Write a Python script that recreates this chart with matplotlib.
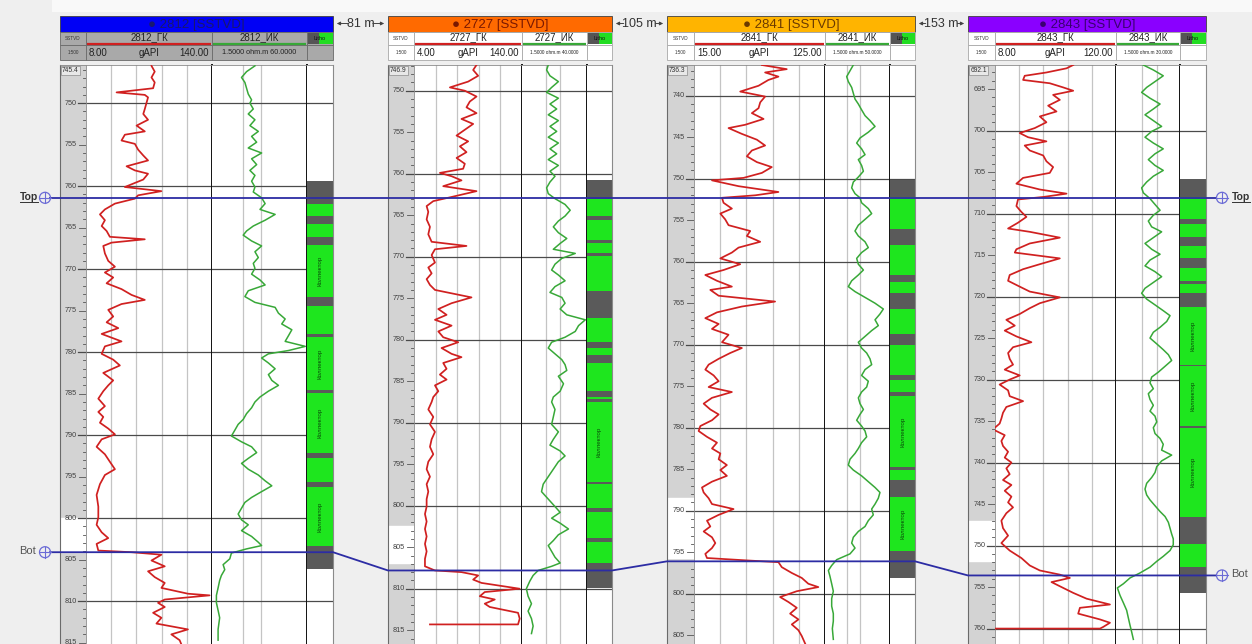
import math
import matplotlib
matplotlib.use("Agg")
import matplotlib.pyplot as plt
from matplotlib.patches import Rectangle, Circle
from matplotlib.ticker import NullLocator

plt.rcParams['font.family'] = ['Liberation Sans', 'DejaVu Sans']

FIG_W, FIG_H = 1252, 644

# ---------------------------------------------------------------- well data
WELLS = ['2812', '2727', '2841', '2843']
TOP_DEPTH = [745.4, 746.9, 736.3, 692.1]
GR_MIN = [8.0, 4.0, 15.0, 8.0]
GR_MAX = [140.0, 140.0, 125.0, 120.0]
IK_MIN = [1.5, 1.5, 1.5, 1.5]
IK_MAX = [60.0, 40.0, 50.0, 30.0]
HORIZON_TOP = [761.4, 762.9, 752.3, 708.1]
HORIZON_BOT = [804.1, 807.8, 796.1, 753.6]
WELL_SPACING_M = [81, 105, 153]
DEPTH_WHITE = [(800.0, 804.1), (802.4, 806.9), (788.5, 795.7), (747.0, 751.9)]

GR_DEPTH_2812 = [745.5, 746.2, 746.9, 747.5, 748.2, 748.7, 749.0, 749.3, 750.0, 750.7,
                 751.3, 752.0, 752.7, 753.4, 753.8, 754.5, 754.9, 755.6, 756.3, 756.9,
                 757.6, 758.1, 758.5, 759.2, 760.1, 760.6, 761.1, 761.5, 762.1, 762.8,
                 763.4, 764.1, 764.8, 765.4, 766.1, 766.4, 766.8, 767.2, 768.1, 769.0,
                 769.7, 770.4, 771.0, 771.7, 772.4, 773.1, 773.7, 774.2, 774.9, 775.7,
                 776.4, 777.1, 777.8, 778.7, 779.3, 780.2, 780.9, 781.6, 782.5, 783.4,
                 784.0, 784.7, 785.6, 786.5, 787.2, 787.8, 788.5, 789.2, 789.9, 790.5,
                 791.4, 792.3, 793.2, 794.1, 794.8, 795.9, 797.2, 798.6, 799.9, 800.8,
                 801.7, 802.4, 803.1, 803.9, 804.1, 804.4, 805.1, 805.8, 806.4, 807.1,
                 807.8, 808.4, 809.1, 809.3, 809.8, 810.2, 810.7, 811.4, 812.0, 812.7,
                 813.4, 814.0, 814.7, 815.2]
GR_2812 = [76.6, 80.0, 76.6, 80.0, 78.3, 40.0, 69.6, 73.0, 71.3, 69.6,
           68.0, 73.0, 61.0, 69.6, 48.7, 45.2, 59.2, 62.6, 68.0, 73.0,
           50.5, 59.2, 73.0, 68.0, 48.7, 87.0, 62.6, 59.2, 38.3, 27.8,
           22.6, 27.8, 24.4, 29.6, 33.0, 69.6, 34.8, 26.1, 27.8, 31.3,
           38.3, 27.8, 36.5, 29.6, 45.2, 55.7, 69.6, 45.2, 31.3, 36.5,
           29.6, 41.8, 24.4, 45.2, 27.8, 24.4, 36.5, 43.5, 26.1, 36.5,
           31.3, 26.1, 20.9, 27.8, 20.9, 26.1, 22.6, 31.3, 38.3, 24.4,
           19.1, 27.8, 33.0, 38.3, 27.8, 22.6, 19.1, 20.9, 20.9, 19.1,
           24.4, 31.3, 19.1, 20.9, 55.7, 87.0, 76.6, 90.5, 73.0, 80.0,
           90.5, 87.0, 114.8, 137.5, 90.5, 83.5, 90.5, 78.3, 87.0, 81.8,
           114.8, 97.4, 106.1, 107.9]
IK_DEPTH_2812 = [745.5, 746.2, 746.9, 747.5, 748.2, 748.9, 749.6, 750.0,
                 750.7, 751.3, 752.0, 752.7, 753.4, 754.0, 754.7, 755.4, 756.0, 756.7,
                 757.4, 758.1, 758.7, 759.4, 760.1, 760.7, 761.4, 762.1, 762.8, 763.4,
                 764.1, 764.8, 765.4, 765.9, 766.6, 767.2, 767.9, 768.6, 769.3, 769.9,
                 770.6, 771.3, 771.9, 772.6, 773.3, 774.0, 774.6, 775.3, 776.0, 776.6,
                 777.3, 778.0, 778.7, 779.3, 779.8, 780.2, 780.7, 781.3, 782.0, 782.7,
                 783.4, 784.0, 784.7, 785.4, 786.0, 786.7, 787.4, 788.1, 788.7, 789.4,
                 790.1, 790.8, 791.4, 792.1, 792.8, 793.4, 794.1, 794.8, 795.5, 796.1,
                 796.8, 797.5, 798.1, 798.8, 799.5, 800.2, 800.8, 801.5, 802.2, 802.9,
                 803.3, 803.7, 804.2, 804.9, 805.6, 806.2, 806.9, 807.5, 808.4, 809.3,
                 810.2, 811.1, 812.0, 813.4, 814.7]
IK_2812 = [7.95, 5.74, 4.72, 5.38, 5.74, 6.13, 6.98, 6.54,
           7.45, 6.13, 7.95, 6.54, 9.06, 6.98, 8.49, 6.13, 10.3, 6.98,
           8.49, 6.54, 7.95, 6.98, 7.95, 7.45, 10.3, 11.8, 9.67, 17.4,
           11.8, 7.45, 5.74, 5.04, 6.98, 10.3, 7.95, 9.06, 7.45, 7.95,
           6.98, 9.67, 11.8, 6.13, 5.38, 7.95, 17.4, 19.8, 25.7, 22.5,
           33.3, 29.3, 25.7, 56.1, 29.3, 13.4, 10.3, 13.4, 17.4, 13.4,
           15.3, 19.8, 13.4, 9.67, 7.95, 6.98, 5.74, 5.04, 4.14, 3.64,
           3.19, 4.72, 6.98, 8.49, 6.13, 4.72, 6.13, 9.06, 11.8, 15.3,
           10.3, 6.98, 5.38, 4.72, 4.14, 4.72, 6.13, 4.72, 6.98, 9.06,
           10.3, 5.74, 3.19, 2.99, 2.31, 2.46, 2.16, 2.02, 1.90, 1.78,
           1.78, 1.90, 2.02, 1.90, 1.90]

GR_DEPTH_2727 = [746.9, 747.5, 748.2, 748.9, 749.6, 750.0, 750.7, 751.3, 752.0, 752.7,
                 753.4, 754.0, 754.7, 755.4, 756.1, 756.7, 757.4, 758.1, 758.8, 759.4,
                 759.9, 760.3, 760.8, 761.5, 762.1, 762.8, 763.3, 763.9, 764.6, 765.5,
                 766.4, 767.3, 768.2, 768.7, 769.1, 769.8, 770.7, 771.3, 772.0, 772.7,
                 773.4, 774.0, 774.9, 775.6, 776.3, 777.0, 777.6, 778.3, 779.0, 779.7,
                 780.3, 781.0, 781.7, 782.1, 782.8, 783.5, 784.2, 784.8, 785.5, 786.2,
                 786.9, 787.5, 788.4, 789.3, 790.2, 791.1, 792.0, 792.9, 793.8, 794.7,
                 795.6, 796.5, 797.4, 798.3, 799.2, 800.1, 801.0, 801.9, 802.8, 803.7,
                 804.6, 805.5, 806.4, 807.3, 807.8, 808.0, 808.4, 808.9, 809.3, 810.0,
                 810.4, 810.9, 811.3, 811.8, 812.2, 812.9, 813.6, 814.3, 814.3]
GR_2727 = [82.7, 78.5, 84.8, 72.2, 49.2, 68.0, 82.7, 74.3, 70.1, 82.7,
           63.8, 78.5, 68.0, 57.6, 72.2, 61.8, 70.1, 57.6, 68.0, 65.9,
           36.6, 51.3, 63.8, 40.8, 82.7, 51.3, 28.3, 19.9, 22.0, 19.9,
           24.1, 22.0, 26.2, 70.1, 30.4, 26.2, 30.4, 22.0, 26.2, 19.9,
           24.1, 30.4, 76.4, 51.3, 34.6, 45.0, 30.4, 51.3, 34.6, 40.8,
           59.7, 38.7, 51.3, 63.8, 40.8, 45.0, 36.6, 45.0, 30.4, 34.6,
           28.3, 26.2, 22.0, 28.3, 24.1, 30.4, 26.2, 24.1, 28.3, 22.0,
           19.9, 24.1, 19.9, 22.0, 19.9, 19.9, 17.8, 19.9, 17.8, 19.9,
           17.8, 19.9, 17.8, 17.8, 30.4, 63.8, 84.8, 78.5, 89.0, 137.1,
           93.1, 86.9, 105.7, 93.1, 99.4, 135.0, 137.1, 135.0, 24.1]
IK_DEPTH_2727 = [746.9, 747.5, 748.2, 748.9, 749.6, 750.2, 750.9, 751.6, 752.2, 752.9,
                 753.6, 754.3, 754.9, 755.6, 756.3, 757.0, 757.6, 758.3, 759.0, 759.7,
                 760.3, 761.0, 761.7, 762.4, 763.0, 763.7, 764.4, 765.1, 765.7, 766.4,
                 767.1, 767.8, 768.4, 769.1, 769.6, 770.2, 770.9, 771.6, 772.2, 772.9,
                 773.6, 774.3, 774.9, 775.6, 776.3, 777.0, 777.6, 778.3, 779.0, 779.7,
                 780.3, 781.0, 781.7, 782.4, 783.0, 783.7, 784.4, 785.3, 786.2, 786.9,
                 787.5, 788.4, 789.3, 790.2, 791.1, 792.0, 792.7, 793.4, 794.0, 794.7,
                 795.6, 796.5, 797.4, 798.3, 799.2, 800.1, 800.8, 801.5, 802.1, 802.8,
                 803.5, 804.2, 804.8, 805.5, 806.2, 806.9, 807.3, 807.8, 808.4, 809.1,
                 810.0, 810.9, 811.8, 812.7, 813.6, 814.5, 815.4]
IK_2727 = [5.65, 5.20, 6.16, 9.42, 6.70, 5.20, 9.42, 6.16, 8.65, 5.65,
           9.42, 6.16, 8.65, 5.65, 9.42, 6.16, 8.65, 5.65, 9.42, 6.16,
           7.94, 6.16, 5.20, 5.65, 7.94, 13.2, 17.1, 13.2, 9.42, 7.30,
           9.42, 14.4, 10.3, 7.30, 22.1, 11.2, 7.94, 6.70, 9.42, 13.2,
           7.94, 6.16, 11.2, 13.2, 10.3, 14.4, 36.7, 26.1, 22.1, 13.2,
           6.70, 5.65, 7.94, 11.2, 13.2, 14.4, 9.42, 12.2, 10.3, 7.30,
           6.70, 7.94, 7.30, 6.70, 9.42, 7.30, 6.16, 10.3, 13.2, 9.42,
           7.30, 5.65, 4.38, 4.02, 5.65, 7.94, 10.3, 6.70, 10.3, 15.7,
           9.42, 7.30, 5.65, 6.70, 7.94, 10.3, 6.70, 3.39, 2.63, 2.22,
           1.87, 2.04, 2.42, 2.04, 2.42, 2.63, 2.42]

GR_DEPTH_2841 = [736.3, 736.8, 737.2, 737.7, 738.1, 738.8, 739.5, 740.1, 740.8, 741.5,
                 742.1, 742.8, 743.5, 743.9, 744.6, 745.3, 746.0, 746.6, 747.3, 748.0,
                 748.6, 749.3, 749.9, 750.2, 750.9, 751.6, 752.0, 752.3, 752.9, 753.6,
                 754.2, 754.9, 755.6, 756.3, 756.9, 757.6, 758.3, 758.9, 759.6, 760.3,
                 761.0, 761.6, 762.3, 763.0, 763.4, 764.1, 764.8, 765.4, 766.1, 766.8,
                 767.5, 768.1, 768.8, 769.7, 770.4, 771.0, 771.7, 772.4, 773.0, 773.7,
                 774.4, 775.1, 775.7, 776.4, 777.1, 777.8, 778.4, 779.1, 779.8, 780.4,
                 781.1, 781.8, 782.5, 783.1, 783.8, 784.5, 785.1, 785.8, 786.5, 787.2,
                 787.8, 788.5, 789.2, 789.8, 790.5, 791.2, 791.9, 792.5, 793.2, 793.9,
                 794.5, 795.2, 795.7, 796.0, 796.2, 796.8, 797.5, 798.1, 798.8, 799.2,
                 799.7, 800.4, 801.0, 801.7, 802.4, 803.1, 803.7, 804.4, 805.1, 806.0]
GR_2841 = [72.0, 92.9, 74.7, 85.9, 77.5, 69.2, 53.8, 74.7, 70.6, 69.2,
           63.6, 73.4, 58.0, 44.0, 55.2, 67.8, 74.7, 63.6, 59.4, 67.8,
           80.3, 72.0, 56.6, 30.1, 52.4, 85.9, 66.4, 38.5, 39.8, 46.8,
           37.1, 41.2, 44.0, 62.2, 59.4, 70.6, 52.4, 46.8, 37.1, 53.8,
           39.8, 24.5, 34.3, 46.8, 28.7, 35.7, 83.1, 55.2, 34.3, 24.5,
           35.7, 30.1, 44.0, 38.5, 55.2, 45.4, 35.7, 27.3, 24.5, 31.5,
           35.7, 27.3, 46.8, 30.1, 23.1, 28.7, 35.7, 30.1, 20.3, 18.9,
           25.9, 34.3, 30.1, 37.1, 35.7, 42.6, 37.1, 42.6, 30.1, 21.7,
           23.1, 27.3, 30.1, 48.2, 35.7, 25.9, 28.7, 23.1, 30.1, 32.9,
           30.1, 24.5, 25.9, 60.8, 85.9, 88.7, 97.1, 105.5, 111.0, 119.4,
           101.3, 87.3, 94.3, 101.3, 95.7, 102.7, 97.1, 102.7, 105.5, 108.3]
IK_DEPTH_2841 = [736.3, 737.0, 737.7, 738.3, 739.0, 739.7, 740.4, 741.0, 741.7, 742.4,
                 743.0, 743.7, 744.4, 745.1, 745.7, 746.4, 747.1, 747.7, 748.4, 749.1,
                 749.8, 750.4, 751.1, 751.8, 752.3, 752.9, 753.6, 754.2, 754.9, 755.6,
                 756.3, 756.9, 757.6, 758.3, 758.9, 759.6, 760.3, 761.0, 761.6, 762.3,
                 763.0, 763.6, 764.3, 765.0, 765.7, 766.3, 767.0, 767.7, 768.3, 769.0,
                 769.7, 770.4, 771.0, 771.7, 772.4, 773.0, 773.7, 774.4, 775.1, 775.7,
                 776.4, 777.1, 777.8, 778.4, 779.1, 779.8, 780.4, 781.1, 781.8, 782.5,
                 783.1, 783.8, 784.5, 785.1, 785.8, 786.5, 787.2, 787.8, 788.5, 789.2,
                 789.8, 790.5, 791.2, 791.9, 792.5, 793.2, 793.9, 794.5, 795.2, 795.9,
                 796.6, 797.2, 797.9, 798.8, 799.7, 800.6, 801.5, 802.4, 803.3, 804.2,
                 805.5]
IK_2841 = [6.91, 5.78, 4.83, 5.28, 6.32, 6.91, 7.57, 9.06, 10.8, 13.0,
           17.0, 22.3, 15.5, 9.91, 8.28, 10.8, 13.0, 9.06, 10.8, 11.9,
           9.06, 6.91, 6.32, 7.57, 9.91, 10.8, 15.5, 18.6, 13.0, 9.06,
           7.57, 9.06, 13.0, 15.5, 10.8, 8.28, 9.06, 11.9, 9.06, 6.32,
           5.28, 7.57, 13.0, 22.3, 34.9, 29.1, 22.3, 26.6, 18.6, 13.0,
           9.06, 10.8, 14.2, 17.0, 18.6, 13.0, 10.8, 15.5, 14.2, 10.8,
           9.06, 9.91, 11.9, 9.91, 8.28, 10.8, 13.0, 14.2, 10.8, 9.06,
           7.57, 5.78, 5.28, 6.91, 10.8, 15.5, 22.3, 29.1, 26.6, 22.3,
           18.6, 20.3, 15.5, 13.0, 9.06, 6.91, 6.32, 7.57, 5.78, 2.82,
           2.15, 1.80, 1.96, 2.15, 2.35, 2.15, 2.15, 2.35, 2.35, 2.23,
           2.35]

GR_DEPTH_2843 = [692.1, 692.5, 693.0, 693.4, 693.9, 694.3, 694.8, 695.2, 695.7, 696.3,
                 697.0, 697.7, 698.3, 699.0, 699.7, 700.3, 700.8, 701.3, 701.8, 702.4,
                 703.0, 703.7, 704.4, 705.1, 705.7, 706.4, 707.1, 707.6, 708.0, 708.3,
                 709.1, 709.8, 710.4, 711.1, 711.8, 712.2, 712.9, 713.6, 714.3, 714.7,
                 715.4, 716.1, 716.7, 717.4, 718.1, 718.7, 719.4, 720.1, 720.8, 721.4,
                 722.1, 722.8, 723.5, 724.1, 724.8, 725.5, 726.1, 726.8, 727.5, 728.2,
                 728.8, 729.5, 730.0, 730.6, 731.3, 732.0, 732.6, 733.3, 734.0, 734.7,
                 735.3, 736.0, 736.7, 737.4, 738.0, 738.7, 739.4, 740.0, 740.7, 741.4,
                 742.1, 742.7, 743.4, 744.1, 744.8, 745.4, 746.1, 747.0, 747.9, 748.8,
                 749.7, 750.6, 751.5, 752.4, 753.0, 753.5, 753.9, 754.4, 755.1, 755.7,
                 756.4, 757.1, 757.5, 758.2, 758.9, 759.3, 759.8, 760.0, 760.0]
GR_2843 = [80.4, 74.2, 55.6, 35.5, 34.0, 58.7, 71.1, 80.4, 61.8, 68.0,
           57.2, 64.9, 49.5, 55.6, 44.8, 30.9, 38.6, 55.6, 35.5, 40.2,
           52.6, 55.6, 61.8, 58.7, 34.0, 27.8, 49.5, 74.2, 52.6, 29.3,
           27.8, 32.4, 37.1, 29.3, 20.1, 40.2, 68.0, 40.2, 27.8, 26.3,
           68.0, 49.5, 34.0, 21.6, 20.1, 29.3, 40.2, 68.0, 49.5, 40.2,
           30.9, 18.5, 26.3, 17.0, 27.8, 41.7, 24.7, 20.1, 21.6, 24.7,
           17.0, 30.9, 21.6, 12.3, 20.1, 21.6, 34.0, 18.5, 15.4, 13.9,
           12.3, 6.1, 17.0, 13.9, 15.4, 20.1, 17.0, 23.2, 18.5, 21.6,
           15.4, 23.2, 17.0, 23.2, 20.1, 24.7, 18.5, 13.9, 15.4, 20.1,
           13.9, 21.6, 32.4, 40.2, 49.5, 68.0, 77.3, 60.3, 71.1, 80.4,
           92.8, 114.4, 86.6, 85.0, 105.2, 114.4, 108.2, 105.2, 8.0]
IK_DEPTH_2843 = [692.1, 692.7, 693.4, 694.1, 694.8, 695.4, 696.1, 696.8, 697.4, 698.1,
                 698.8, 699.5, 700.1, 700.8, 701.5, 702.2, 702.8, 703.5, 704.2, 704.8,
                 705.5, 706.2, 706.9, 707.5, 708.2, 708.9, 709.6, 710.2, 710.9, 711.6,
                 712.2, 712.9, 713.6, 714.3, 714.9, 715.6, 716.3, 717.0, 717.6, 718.3,
                 719.0, 719.6, 720.3, 721.0, 721.7, 722.3, 723.0, 723.7, 724.3, 725.0,
                 725.7, 726.4, 727.0, 727.7, 728.4, 729.1, 729.7, 730.4, 731.1, 731.7,
                 732.4, 733.1, 733.8, 734.4, 735.1, 735.8, 736.5, 737.1, 737.8, 738.5,
                 739.1, 739.8, 740.5, 741.2, 741.8, 742.5, 743.2, 743.9, 744.5, 745.2,
                 745.9, 746.5, 747.2, 747.9, 748.6, 749.2, 749.9, 750.6, 751.3, 751.9,
                 752.6, 753.3, 753.9, 754.6, 755.1, 756.0, 756.9, 757.8, 758.7, 759.6,
                 760.4, 761.3]
IK_2843 = [5.39, 8.61, 13.7, 9.31, 6.30, 4.98, 7.37, 11.8, 8.61, 5.83,
           8.61, 12.7, 7.96, 5.83, 8.61, 13.7, 9.31, 6.81, 9.31, 13.7,
           8.61, 6.30, 4.98, 5.39, 7.37, 9.31, 11.8, 8.61, 6.81, 7.96,
           12.7, 8.61, 5.83, 7.96, 11.8, 7.37, 5.83, 9.31, 12.7, 8.61,
           5.83, 4.98, 6.30, 9.31, 13.7, 18.8, 16.1, 11.8, 8.61, 7.37,
           10.1, 13.7, 17.4, 20.3, 14.9, 10.9, 7.96, 7.37, 8.61, 6.81,
           7.37, 8.61, 7.37, 9.31, 10.1, 8.61, 9.31, 11.8, 13.7, 12.7,
           20.3, 12.7, 10.1, 9.31, 7.96, 6.30, 5.83, 6.30, 7.37, 9.31,
           11.8, 14.9, 17.4, 18.8, 20.3, 21.9, 21.9, 18.8, 13.7, 10.1,
           7.37, 4.61, 2.89, 2.12, 1.60, 1.81, 2.12, 2.47, 2.67, 2.89,
           3.12, 3.38]

# lithology intervals: (top, base, kind) -- 0 shale, 1 reservoir, 2 reservoir with label
LITHO_2812 = [(759.4, 762.1, 0), (762.1, 763.6, 1), (763.6, 764.6, 0), (764.6, 766.1, 1),
              (766.1, 767.1, 0), (767.1, 773.3, 2), (773.3, 774.4, 0), (774.4, 777.8, 1),
              (777.8, 778.2, 0), (778.2, 784.5, 2), (784.5, 784.9, 0), (784.9, 792.1, 2),
              (792.1, 792.7, 0), (792.7, 795.7, 1), (795.7, 796.3, 0), (796.3, 803.3, 2),
              (803.3, 806.1, 0)]
LITHO_2727 = [(760.8, 763.0, 0), (763.0, 765.1, 1), (765.1, 765.6, 0), (765.6, 768.0, 1),
              (768.0, 768.4, 0), (768.4, 769.5, 1), (769.5, 769.9, 0), (769.9, 774.1, 1),
              (774.1, 777.4, 0), (777.4, 780.3, 1), (780.3, 781.0, 0), (781.0, 781.9, 1),
              (781.9, 782.8, 0), (782.8, 786.2, 1), (786.2, 786.9, 0), (786.9, 787.2, 1),
              (787.2, 787.5, 0), (787.5, 797.2, 2), (797.2, 797.4, 0), (797.4, 800.3, 1),
              (800.3, 800.8, 0), (800.8, 803.9, 1), (803.9, 804.4, 0), (804.4, 806.9, 1),
              (806.9, 809.9, 0)]
LITHO_2841 = [(750.1, 752.2, 0), (752.2, 756.0, 1), (756.0, 758.0, 0), (758.0, 761.6, 1),
              (761.6, 762.5, 0), (762.5, 763.8, 1), (763.8, 765.7, 0), (765.7, 768.7, 1),
              (768.7, 770.0, 0), (770.0, 773.7, 1), (773.7, 774.3, 0), (774.3, 775.7, 1),
              (775.7, 776.2, 0), (776.2, 784.7, 2), (784.7, 785.1, 0), (785.1, 786.3, 1),
              (786.3, 788.3, 0), (788.3, 794.8, 2), (794.8, 798.1, 0)]
LITHO_2843 = [(705.8, 708.0, 0), (708.0, 710.7, 1), (710.7, 711.3, 0), (711.3, 712.8, 1),
              (712.8, 713.9, 0), (713.9, 715.4, 1), (715.4, 716.5, 0), (716.5, 718.1, 1),
              (718.1, 718.5, 0), (718.5, 719.6, 1), (719.6, 721.2, 0), (721.2, 728.2, 2),
              (728.2, 728.4, 0), (728.4, 735.6, 2), (735.6, 735.8, 0), (735.8, 746.5, 2),
              (746.5, 749.8, 0), (749.8, 752.6, 1), (752.6, 755.7, 0)]

GR_DEPTHS = [GR_DEPTH_2812, GR_DEPTH_2727, GR_DEPTH_2841, GR_DEPTH_2843]
GR_VALUES = [GR_2812, GR_2727, GR_2841, GR_2843]
IK_DEPTHS = [IK_DEPTH_2812, IK_DEPTH_2727, IK_DEPTH_2841, IK_DEPTH_2843]
IK_VALUES = [IK_2812, IK_2727, IK_2841, IK_2843]
LITHO = [LITHO_2812, LITHO_2727, LITHO_2841, LITHO_2843]

# ---------------------------------------------------------------- layout (pixels)
# per well: left, depth-track end, GR end, IK end, right
TRACK_X = [(60, 86, 212, 307, 333), (388, 414, 522, 587, 612),
           (667, 694, 825, 890, 915), (968, 995, 1116, 1180, 1206)]
PANEL_Y0, PANEL_Y1 = 65, 644
PX_PER_M = 8.3
BAR_COLORS = ['#0000f5', '#ff6a00', '#ffb400', '#8a00ff']
BAR_TEXT = ['#18186e', '#7a1800', '#6a3a00', '#3a0070']
GR_COLOR = '#d02020'
IK_COLOR = '#38a838'
HORIZON_COLOR = '#2c2ca4'
SHALE_COLOR = '#5a5a5a'
RES_COLOR = '#1ee61e'

fig = plt.figure(figsize=(FIG_W / 100, FIG_H / 100), dpi=100, facecolor='#efefef')


def fig_box(x0, y0, x1, y1):
    return [x0 / FIG_W, 1 - y1 / FIG_H, (x1 - x0) / FIG_W, (y1 - y0) / FIG_H]


def clean(ax, top_edge=True):
    ax.tick_params(which='both', length=0, labelbottom=False, labelleft=False)
    for s in ax.spines.values():
        s.set_visible(False)
    if top_edge:
        ax.spines['top'].set_visible(True)
        ax.spines['top'].set_color('#8a8a8a')
        ax.spines['top'].set_linewidth(0.6)


depth_axes = []
for i, name in enumerate(WELLS):
    xl, xd, xg, xk, xr = TRACK_X[i]
    top = TOP_DEPTH[i]
    base = top + (PANEL_Y1 - PANEL_Y0) / PX_PER_M
    grid10 = list(range(int(math.ceil(top / 10.0)) * 10, int(base) + 1, 10))

    # depth track
    ax_d = fig.add_axes(fig_box(xl, PANEL_Y0, xd, PANEL_Y1))
    ax_d.set_xlim(0, 1)
    ax_d.set_ylim(base, top)
    ax_d.set_facecolor('#d3d3d3')
    clean(ax_d)
    ax_d.spines['left'].set_visible(True)
    ax_d.spines['left'].set_color('#6a6a6a')
    ax_d.spines['left'].set_linewidth(0.8)
    w0, w1 = DEPTH_WHITE[i]
    ax_d.axhspan(w0, w1, color='white', zorder=0.5)
    for d in range(int(math.ceil(top)), int(base) + 1):
        ln = 0.26 if d % 5 == 0 else 0.12
        ax_d.plot([1 - ln, 1], [d, d], color='#555555', lw=0.6, zorder=2)
        if d % 5 == 0 and d - top > 1.5:
            ax_d.text(0.42, d, str(d), fontsize=5.2, color='#404040',
                      ha='center', va='center', zorder=3)
    for d in grid10:
        ax_d.plot([0.7, 1], [d, d], color='#4a4a4a', lw=0.9, zorder=2)
    ax_d.text(0.08, top + 0.3, f'{top:.1f}', fontsize=4.8, color='#303030',
              ha='left', va='top', zorder=4,
              bbox=dict(boxstyle='square,pad=0.15', fc='#e8e8e8', ec='#777777', lw=0.4))
    depth_axes.append(ax_d)

    # gamma-ray track
    ax_g = fig.add_axes(fig_box(xd, PANEL_Y0, xg, PANEL_Y1))
    ax_g.set_xlim(GR_MIN[i], GR_MAX[i])
    ax_g.set_ylim(base, top)
    step = (GR_MAX[i] - GR_MIN[i]) / 5.0
    ax_g.set_xticks([GR_MIN[i] + k * step for k in range(1, 5)])
    ax_g.set_yticks(grid10)
    ax_g.set_axisbelow(True)
    ax_g.xaxis.grid(True, color='#c4c4c4', lw=0.9)
    ax_g.yaxis.grid(True, color='#4a4a4a', lw=0.9)
    clean(ax_g)
    ax_g.spines['left'].set_visible(True)
    ax_g.spines['left'].set_color('#8a8a8a')
    ax_g.spines['left'].set_linewidth(0.6)
    ax_g.spines['right'].set_visible(True)
    ax_g.spines['right'].set_color('#111111')
    ax_g.spines['right'].set_linewidth(1.4)
    ax_g.plot(GR_VALUES[i], GR_DEPTHS[i], color=GR_COLOR, lw=1.25, zorder=3)

    # induction (resistivity) track, logarithmic
    ax_k = fig.add_axes(fig_box(xg, PANEL_Y0, xk, PANEL_Y1))
    ax_k.set_xscale('log')
    ax_k.set_xlim(IK_MIN[i], IK_MAX[i])
    ax_k.set_ylim(base, top)
    ax_k.set_xticks([5, 10])
    ax_k.xaxis.set_minor_locator(NullLocator())
    ax_k.set_yticks(grid10)
    ax_k.set_axisbelow(True)
    ax_k.xaxis.grid(True, color='#c4c4c4', lw=0.9)
    ax_k.yaxis.grid(True, color='#4a4a4a', lw=0.9)
    clean(ax_k)
    ax_k.spines['right'].set_visible(True)
    ax_k.spines['right'].set_color('#111111')
    ax_k.spines['right'].set_linewidth(1.4)
    ax_k.plot(IK_VALUES[i], IK_DEPTHS[i], color=IK_COLOR, lw=1.1, zorder=3)

    # lithology track
    ax_l = fig.add_axes(fig_box(xk, PANEL_Y0, xr, PANEL_Y1))
    ax_l.set_xlim(0, 1)
    ax_l.set_ylim(base, top)
    ax_l.set_yticks(grid10)
    ax_l.set_axisbelow(True)
    ax_l.yaxis.grid(True, color='#4a4a4a', lw=0.9)
    clean(ax_l)
    ax_l.spines['right'].set_visible(True)
    ax_l.spines['right'].set_color('#8a8a8a')
    ax_l.spines['right'].set_linewidth(0.8)
    for t, b, kind in LITHO[i]:
        ax_l.axhspan(t, b, color=SHALE_COLOR if kind == 0 else RES_COLOR, lw=0, zorder=2)
        if kind == 2:
            ax_l.text(0.5, (t + b) / 2, 'Коллектор', rotation=90, fontsize=4.5,
                      color='#0a4a0a', ha='center', va='center', zorder=3,
                      transform=ax_l.get_yaxis_transform())

# ---------------------------------------------------------------- overlay (headers, horizons)
ov = fig.add_axes([0, 0, 1, 1], zorder=10)
ov.set_xlim(0, FIG_W)
ov.set_ylim(FIG_H, 0)
ov.axis('off')

ov.add_patch(Rectangle((52, 0), FIG_W - 52, 12, fc='#f9f9f9', ec='none', zorder=0))


def overlay_y(ax, depth):
    disp = ax.transData.transform((0.5, depth))
    return ov.transData.inverted().transform(disp)[1]


for i, name in enumerate(WELLS):
    xl, xd, xg, xk, xr = TRACK_X[i]
    ov.add_patch(Rectangle((xl, 16), xr - xl, 16, fc=BAR_COLORS[i], ec='#404040', lw=0.6))
    ov.text((xl + xr) / 2, 24.5, f'\u25cf {name} [SSTVD]', fontsize=9.5,
            color=BAR_TEXT[i], ha='center', va='center')
    fill = '#a9a9a9' if i == 0 else '#ffffff'
    edge = '#6a6a6a' if i == 0 else '#a8a8a8'
    for a, b in [(xl, xd), (xd, xg), (xg, xk), (xk, xr)]:
        for y0, y1 in [(32, 45), (45, 60)]:
            ov.add_patch(Rectangle((a, y0), b - a, y1 - y0, fc=fill, ec=edge, lw=0.6))
    # depth cell
    ov.text((xl + xd) / 2, 38.5, 'SSTVD', fontsize=3.3, color='#333', ha='center', va='center')
    ov.text((xl + xd) / 2, 52.5, '1:500', fontsize=3.3, color='#333', ha='center', va='center')
    # gamma-ray cell
    ov.text((xd + xg) / 2, 37.5, f'{name}_ГК', fontsize=7, color='#222', ha='center', va='center')
    ov.plot([xd + 1, xg - 1], [44, 44], color=GR_COLOR, lw=1.6, solid_capstyle='butt')
    ov.text(xd + 3, 52.5, f'{GR_MIN[i]:.2f}', fontsize=7, color='#222', ha='left', va='center')
    ov.text((xd + xg) / 2, 53, 'gAPI', fontsize=7, color='#222', ha='center', va='center')
    ov.text(xg - 3, 52.5, f'{GR_MAX[i]:.2f}', fontsize=7, color='#222', ha='right', va='center')
    # induction cell
    ov.text((xg + xk) / 2, 37.5, f'{name}_ИК', fontsize=7, color='#222', ha='center', va='center')
    ov.plot([xg + 1, xk - 1], [44, 44], color=IK_COLOR, lw=1.6, solid_capstyle='butt')
    ov.text((xg + xk) / 2, 52.5, f'{IK_MIN[i]:.4f} ohm.m {IK_MAX[i]:.4f}',
            fontsize=5.2 if i == 0 else 3.4, color='#222', ha='center', va='center')
    # lithology cell
    wl = xr - xk
    ov.add_patch(Rectangle((xk + 1, 33), wl * 0.42, 11, fc='#555555', ec='none'))
    ov.add_patch(Rectangle((xk + 1 + wl * 0.42, 33), wl * 0.55, 11, fc='#22dd22', ec='none'))
    ov.text(xk + wl / 2, 38.5, 'Litho', fontsize=4, color='#111', ha='center', va='center')

# distances between neighbouring wells
for i, dist in enumerate(WELL_SPACING_M):
    x_a = TRACK_X[i][4]
    x_b = TRACK_X[i + 1][0]
    xm = (x_a + x_b) / 2
    ov.text(xm, 23.5, f'{dist} m', fontsize=9, color='#333', ha='center', va='center')
    half = 8.5 if dist < 100 else 12
    ov.annotate('', xy=(x_a + 1, 23.5), xytext=(xm - half - 1, 23.5),
                arrowprops=dict(arrowstyle='-|>', color='#444', lw=0.7, mutation_scale=5))
    ov.annotate('', xy=(x_b - 1, 23.5), xytext=(xm + half + 1, 23.5),
                arrowprops=dict(arrowstyle='-|>', color='#444', lw=0.7, mutation_scale=5))


def draw_horizon(depths):
    ys = [overlay_y(depth_axes[i], d) for i, d in enumerate(depths)]
    xs, yy = [50], [ys[0]]
    for i, y in enumerate(ys):
        xs += [TRACK_X[i][0], TRACK_X[i][4]]
        yy += [y, y]
    xs.append(1216)
    yy.append(ys[-1])
    ov.plot(xs, yy, color=HORIZON_COLOR, lw=1.3, zorder=5)
    return ys[0], ys[-1]


def marker(x, y):
    ov.add_patch(Circle((x, y), 5.5, fill=False, ec='#6b6bd6', lw=0.9, zorder=6))
    ov.plot([x - 5.5, x + 5.5], [y, y], color='#6b6bd6', lw=0.8, zorder=6)
    ov.plot([x, x], [y - 5.5, y + 5.5], color='#6b6bd6', lw=0.8, zorder=6)


yt_l, yt_r = draw_horizon(HORIZON_TOP)
yb_l, yb_r = draw_horizon(HORIZON_BOT)

marker(45, yt_l)
ov.text(29, yt_l - 1, 'Top', fontsize=7.5, fontweight='bold', color='#333', ha='center', va='center')
ov.plot([20, 38], [yt_l + 4, yt_l + 4], color='#333', lw=0.7)
marker(1222, yt_r)
ov.text(1241, yt_r - 1, 'Top', fontsize=7.5, fontweight='bold', color='#333', ha='center', va='center')
ov.plot([1232, 1250], [yt_r + 4, yt_r + 4], color='#333', lw=0.7)

marker(45, yb_l)
ov.text(28, yb_l - 1, 'Bot', fontsize=8, color='#555', ha='center', va='center')
marker(1222, yb_r)
ov.text(1240, yb_r - 1, 'Bot', fontsize=8, color='#555', ha='center', va='center')

fig.savefig('out.png', dpi=100, facecolor=fig.get_facecolor())
